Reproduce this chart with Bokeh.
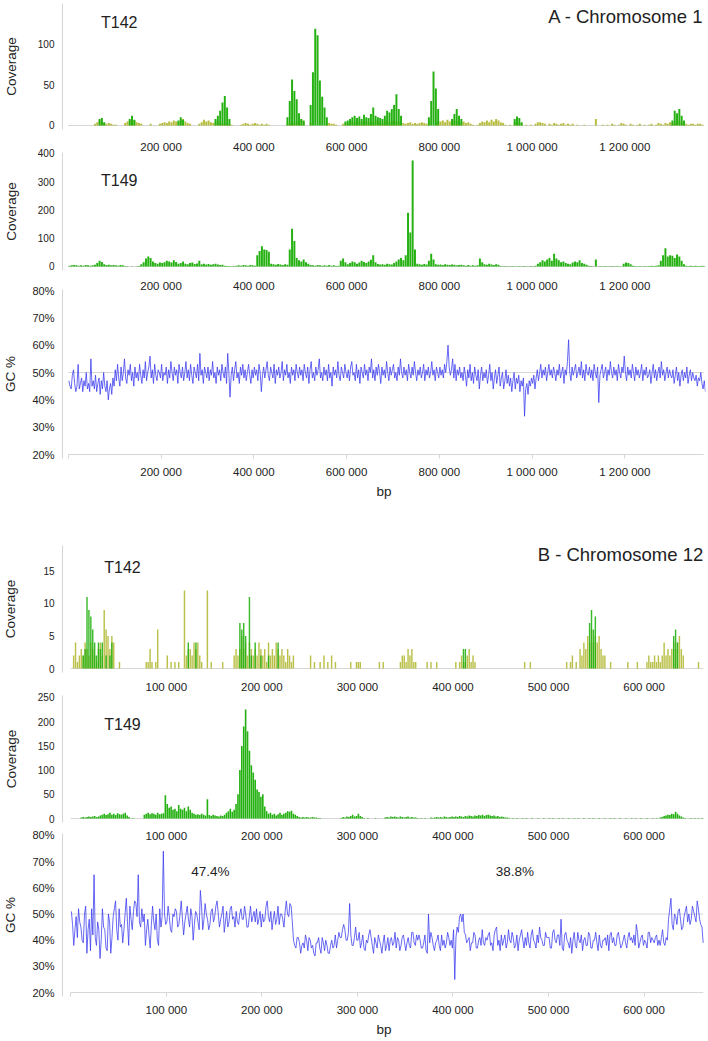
import numpy as np
from bokeh.plotting import figure
from bokeh.layouts import column
from bokeh.models import Range1d, FixedTicker, LinearAxis, Label, PrintfTickFormatter
from bokeh.embed import file_html
from bokeh.resources import INLINE

# ---------------- data ----------------
chr1_len = 1370000
chr12_len = 662000
a_bin = 5000      # bp per coverage bin, chromosome 1
b_bin = 2000      # bp per coverage bin, chromosome 12
gca_bin = 2500    # bp per GC window, chromosome 1
gcb_bin = 1250    # bp per GC window, chromosome 12

a_ticks = [0, 200000, 400000, 600000, 800000, 1000000, 1200000]
a_tick_labels = ["", "200 000", "400 000", "600 000", "800 000", "1 000 000", "1 200 000"]
b_ticks = [0, 100000, 200000, 300000, 400000, 500000, 600000]
b_tick_labels = ["", "100 000", "200 000", "300 000", "400 000", "500 000", "600 000"]
a142_yticks = [0, 50, 100]
a149_yticks = [0, 100, 200, 300, 400]
b142_yticks = [0, 5, 10, 15]
b149_yticks = [0, 50, 100, 150, 200, 250]
gc_yticks = [20, 30, 40, 50, 60, 70, 80]
gc_b_means = ["47.4%", "38.8%"]

# Chromosome 1, T142 coverage (olive = low-quality reads, green = unique reads)
a142_o = [
 0,0,0,0,0,0,0,0,0,0,  0,2,4,6,5,3,2,3,2,1,  1,0,0,0,3,5,6,7,6,4,
 3,2,0,0,0,2,0,0,0,2,  3,4,3,5,4,6,5,4,7,8,  5,3,2,0,0,0,2,4,7,5,
 6,4,3,5,4,3,3,2,2,2,  1,0,0,0,1,2,3,2,1,2,  3,2,1,2,1,2,1,0,0,0,
 0,0,0,0,2,3,4,3,5,3,  7,5,0,0,3,0,0,0,0,0,  0,3,3,2,2,1,0,0,2,3,
 3,4,5,4,3,5,4,6,5,4,  5,4,6,5,4,3,5,6,4,5,  6,5,4,4,3,2,3,4,2,3,
 2,3,4,3,2,3,0,0,4,5,  5,6,4,7,5,8,6,5,6,4,  5,3,4,2,1,0,1,3,5,4,
 6,4,7,5,8,6,4,3,1,0,  1,0,4,3,3,2,0,1,0,1,  0,2,4,4,3,2,0,2,1,3,
 2,1,2,3,1,2,1,2,0,1,  0,0,1,0,0,0,0,8,0,0,  1,0,1,0,2,1,0,1,3,2,
 1,0,2,1,0,1,2,0,1,0,  1,2,0,1,3,2,1,3,2,4,  3,4,3,5,4,3,2,1,2,2,
 1,2,2,1,0]
a142_g = [
 0,0,0,0,0,0,0,0,0,0,  0,0,0,8,9,4,0,0,0,0,  0,0,0,0,0,0,8,12,7,0,
 0,0,0,0,0,0,0,0,0,0,  0,0,0,0,0,0,0,6,10,7,  0,0,0,0,0,0,0,0,0,0,
 0,0,0,8,12,18,28,36,22,8,  0,0,0,0,0,0,0,0,0,0,  0,0,0,0,0,0,0,0,0,0,
 0,0,0,0,10,30,56,42,32,15,  8,6,0,0,25,65,118,110,55,35,  22,10,0,0,0,0,0,0,0,5,
 6,8,10,12,9,11,8,13,10,9,  14,22,12,10,9,8,12,18,16,20,  25,38,20,12,0,0,0,0,0,0,
 0,0,0,0,0,10,30,66,45,20,  0,0,0,0,0,8,14,20,12,8,  0,0,0,0,0,0,0,0,0,0,
 0,0,0,0,0,0,0,0,0,0,  0,0,8,11,9,4,0,0,0,0,  0,0,0,0,0,0,0,0,0,0,
 0,0,0,0,0,0,0,0,0,0,  0,0,0,0,0,0,0,0,0,0,  0,0,0,0,0,0,0,0,0,0,
 0,0,0,0,0,0,0,0,0,0,  0,0,0,0,0,0,0,0,0,0,  6,18,15,20,12,6,0,0,0,0,
 0,0,0,0,0]

# Chromosome 1, T149 coverage
a149_g = [
 3,4,5,4,3,4,3,5,4,3,  4,6,12,20,16,8,5,6,4,5,  4,3,5,4,2,1,0,1,0,1,
 2,8,15,28,35,30,18,12,10,14,  12,15,20,18,14,22,16,10,12,18,  10,8,12,14,9,11,20,8,10,7,
 9,6,8,10,7,5,6,3,2,2,  1,2,3,4,3,5,4,3,5,4,  3,40,55,72,60,58,52,10,8,6,
 9,7,5,8,6,60,134,90,30,22,  18,25,15,10,5,4,3,5,4,3,  4,3,5,3,4,2,3,20,28,15,
 8,12,18,15,10,14,20,16,12,18,  24,40,15,9,7,8,6,10,8,7,  12,18,25,30,22,40,190,120,375,60,
 10,8,6,9,7,20,45,25,8,6,  7,5,8,6,5,7,6,4,5,6,  4,3,5,3,4,3,4,28,15,8,
 6,10,7,5,8,6,2,1,2,1,  1,2,1,1,2,1,2,1,1,2,  1,3,10,15,22,18,25,30,20,45,
 28,22,15,18,12,10,8,14,18,15,  22,12,10,6,3,2,1,25,1,2,  1,2,1,1,2,1,2,1,1,10,
 14,12,8,3,2,1,2,1,2,1,  2,3,2,3,4,20,40,65,35,40,  38,30,42,35,20,8,3,2,3,2,
 3,2,2,3,2]

# Chromosome 1, GC % per window
gc_a = [
 47,45,44,49,51,46,43,45,53,44, 46,48,43,47,45,50,44,46,43,55,
 45,47,44,49,43,46,48,42,47,44, 50,45,43,47,40,44,46,42,48,45,
 51,47,53,48,45,52,47,50,55,48, 46,51,49,53,47,50,45,52,48,50,
 47,53,49,46,51,48,54,47,50,52, 56,48,51,46,53,49,47,51,50,48,
 53,47,50,49,52,46,51,48,54,50, 47,52,49,51,46,53,50,48,52,47,
 50,54,48,51,47,53,49,46,52,50, 48,53,47,57,49,51,46,52,50,48,
 52,47,51,49,54,48,50,46,52,49, 51,47,53,50,48,52,46,57,50,41,
 49,52,47,51,54,48,50,46,52,49, 53,48,51,47,50,53,49,46,51,48,
 52,49,51,47,53,50,43,49,52,48, 51,54,49,47,52,50,48,53,46,51,
 49,52,48,50,54,47,51,49,53,48, 50,46,52,49,51,47,53,50,48,52,
 49,51,47,53,50,48,52,46,51,54, 48,50,47,52,49,51,55,48,50,47,
 52,49,51,47,53,48,50,45,52,49, 51,48,54,49,47,52,50,48,53,50,
 48,51,47,52,54,49,50,47,53,48, 51,46,52,50,48,53,49,51,47,52,
 50,55,48,51,47,52,49,53,50,46, 52,49,51,48,54,50,47,52,49,51,
 53,48,50,47,52,49,55,50,48,52, 49,51,47,53,50,48,52,49,54,50,
 47,51,49,52,48,50,53,47,51,49, 52,48,50,54,49,51,47,52,50,48,
 52,49,51,48,53,50,54,60,52,49, 51,55,48,53,47,51,49,52,48,50,
 47,52,49,45,51,48,53,47,50,46, 52,49,47,51,44,49,52,47,50,48,
 51,46,49,53,47,50,44,48,51,46, 49,52,45,48,50,44,47,51,46,49,
 45,48,43,47,50,44,48,46,49,43, 47,45,48,34,44,46,42,47,45,48,
 46,49,44,48,51,47,50,53,48,51, 49,52,47,50,53,49,51,48,52,50,
 47,51,49,53,48,50,52,46,51,49, 54,62,50,47,52,49,51,53,48,50,
 52,49,54,48,51,47,53,50,49,52, 48,51,47,53,50,48,52,39,49,51,
 53,48,50,52,47,51,49,54,50,48, 52,49,51,47,53,50,48,52,50,56,
 50,47,52,49,51,48,53,50,47,52, 49,51,48,50,53,47,51,49,52,48,
 49,51,46,50,53,48,51,47,50,52, 48,54,49,51,47,50,52,48,51,49,
 48,51,46,49,52,47,50,45,49,51, 47,50,48,52,46,49,51,47,50,48,
 47,49,45,48,47,50,46,44,47,43]

# Chromosome 12, T142 coverage
b142_o = [
 0,2,4,1,2,3,2,4,3,2,  4,3,2,1,3,4,2,9,6,5,  3,5,4,0,0,1,0,0,0,0,
 0,0,0,0,0,0,0,0,0,1,  1,3,1,0,1,6,0,0,0,0,  2,0,1,0,1,0,1,0,0,12,
 2,3,3,2,4,3,4,2,1,0,  0,12,0,1,0,0,0,0,0,1,  0,0,0,0,0,2,3,2,3,5,
 3,4,2,4,3,2,3,2,4,3,  2,3,1,4,2,3,2,4,3,2,  3,2,1,3,2,1,2,0,0,0,
 0,0,0,0,0,2,0,1,0,0,  1,0,2,0,1,0,2,0,1,0,  0,0,0,0,0,0,1,0,0,1,
 1,1,0,0,0,0,0,0,0,0,  0,1,0,1,0,0,0,0,0,0,  0,0,1,2,2,1,3,2,3,1,
 1,0,0,0,0,0,1,0,1,0,  0,1,0,0,0,0,0,0,0,0,  0,1,0,1,2,1,1,2,3,1,
 2,1,0,0,0,0,0,0,0,0,  0,0,0,0,0,0,0,0,0,0,  0,0,0,0,0,0,0,1,0,0,
 1,0,0,0,0,0,0,0,0,0,  0,0,0,0,0,0,0,0,0,1,  0,1,2,0,1,0,3,2,4,3,
 5,4,6,4,5,4,5,3,2,2,  0,0,1,0,0,0,0,0,0,0,  0,1,0,0,0,0,1,0,0,0,
 0,1,2,1,1,2,1,2,1,2,  4,2,3,2,3,4,3,4,5,3,  2,0,0,0,0,0,0,0,1,0,
 0]
b142_g = [
 0,0,0,0,0,0,2,3,11,9,  8,6,4,2,4,3,4,0,2,0,  2,4,0,0,0,0,0,0,0,0,
 0,0,0,0,0,0,0,0,0,0,  0,0,0,0,0,0,0,0,0,0,  0,0,0,0,0,0,0,0,0,0,
 0,4,0,0,0,4,0,0,0,0,  0,0,0,0,0,0,0,0,0,0,  0,0,0,0,0,0,0,0,7,6,
 7,5,0,11,2,0,4,0,0,2,  0,0,0,2,0,0,0,0,4,0,  0,0,0,0,0,0,0,0,0,0,
 0,0,0,0,0,0,0,0,0,0,  0,0,0,0,0,0,0,0,0,0,  0,0,0,0,0,0,0,0,0,0,
 0,0,0,0,0,0,0,0,0,0,  0,0,0,0,0,0,0,0,0,0,  0,0,0,0,0,0,0,0,0,0,
 0,0,0,0,0,0,0,0,0,0,  0,0,0,0,0,0,0,0,0,0,  0,0,0,0,0,3,3,0,0,0,
 0,0,0,0,0,0,0,0,0,0,  0,0,0,0,0,0,0,0,0,0,  0,0,0,0,0,0,0,0,0,0,
 0,0,0,0,0,0,0,0,0,0,  0,0,0,0,0,0,0,0,0,0,  0,0,0,0,0,0,0,0,0,0,
 0,7,9,6,8,0,0,0,0,0,  0,0,0,0,0,0,0,0,0,0,  0,0,0,0,0,0,0,0,0,0,
 0,0,0,0,0,0,0,0,0,0,  0,0,0,0,0,5,6,4,0,0,  0,0,0,0,0,0,0,0,0,0,
 0]

# Chromosome 12, T149 coverage
b149_g = [
 0,0,0,0,0,2,3,2,3,4,  3,4,5,3,4,6,8,10,7,9,  12,8,10,7,11,9,8,10,12,6,
 3,0,1,0,0,0,0,0,8,10,  12,9,11,10,8,12,9,10,11,48,  30,22,25,18,20,15,28,20,18,22,
 15,25,18,12,10,8,9,7,10,8,  6,40,7,5,8,6,5,4,6,5,  8,12,15,20,14,18,30,50,100,150,
 190,225,180,140,110,95,80,60,55,45,  50,25,15,10,12,8,10,6,9,12,  8,10,12,15,14,16,10,8,5,3,
 2,3,2,3,2,2,3,2,2,1,  1,0,0,0,0,0,0,0,0,0,  0,1,3,2,4,3,5,8,4,5,
 10,5,3,1,0,1,0,0,0,1,  0,0,0,0,2,3,2,4,3,4,  3,2,4,3,2,3,4,2,3,2,
 2,1,0,1,0,1,0,0,2,1,  2,3,2,3,2,4,3,2,3,4,  3,4,3,5,4,3,5,4,6,5,
 4,6,5,7,6,8,5,7,8,6,  5,6,4,5,3,4,3,2,2,1,  0,1,0,1,0,0,1,0,1,0,
 0,1,0,0,1,0,0,1,0,0,  1,0,1,0,0,1,0,1,0,0,  1,0,0,1,0,1,0,0,1,0,
 0,1,0,1,0,0,1,0,0,1,  0,0,1,0,1,0,0,1,0,0,  1,0,0,1,0,1,0,0,1,0,
 0,1,0,0,1,0,1,0,2,3,  5,6,8,7,10,9,14,10,6,4,  2,1,0,0,1,0,1,0,1,0,
 1]

# Chromosome 12, GC % per window
gc_b = [
 51,46,38,44,49,41,52,47,45,40, 39,50,53,35,44,48,36,52,42,65,
 41,38,47,44,33,40,52,45,44,37, 36,50,47,35,41,49,52,55,44,40,
 52,45,46,39,44,50,56,47,38,53, 48,44,51,55,54,49,65,47,45,52,
 47,50,38,44,48,42,37,46,53,47, 44,50,40,38,52,45,49,74,50,46,
 47,53,49,44,43,50,49,52,51,45, 46,50,55,48,42,47,50,53,48,45,
 52,49,40,46,51,50,47,44,59,53, 44,48,54,50,48,44,46,51,52,47,
 49,53,55,50,45,48,50,53,43,47, 51,45,47,52,53,48,49,45,51,47,
 46,50,52,48,48,53,50,45,45,49, 53,47,49,51,47,52,46,48,51,45,
 50,47,48,53,55,49,47,51,44,48, 51,46,48,53,46,50,50,48,45,51,
 55,50,49,54,53,47,40,38,37,41, 41,39,35,38,39,37,42,40,36,41,
 40,37,38,35,34,39,39,41,37,35, 41,39,36,40,38,35,35,38,40,37,
 38,42,37,40,43,41,41,44,46,44, 40,40,43,54,42,38,38,41,45,40,
 40,43,37,39,42,37,36,40,39,42, 44,41,38,35,41,39,37,42,40,38,
 35,39,42,36,38,41,36,40,41,38, 39,43,37,41,40,36,38,41,42,39,
 36,39,41,38,37,43,43,39,38,42, 40,42,40,37,37,39,42,36,35,50,
 39,43,41,38,36,39,40,42,38,36, 42,38,40,37,39,43,41,38,40,37,
 44,25,41,45,43,49,50,47,50,43, 42,39,40,41,36,39,39,43,42,37,
 37,40,41,38,44,39,38,41,40,42, 43,38,39,36,42,44,45,38,40,36,
 42,38,40,42,37,39,44,40,39,43, 41,37,38,42,36,40,42,44,40,37,
 41,38,43,39,37,42,44,40,39,37, 42,39,45,41,40,38,38,43,41,41,
 41,37,37,43,44,40,39,42,42,38, 48,37,36,42,43,40,39,37,41,35,
 40,43,38,37,43,40,39,42,36,40, 41,38,38,43,42,37,37,40,40,43,
 39,36,42,38,37,40,40,41,38,42, 36,42,43,39,41,38,38,42,43,40,
 37,38,40,42,39,37,41,43,40,41, 39,42,38,46,43,37,39,41,42,38,
 40,39,37,43,43,39,41,40,39,41, 42,38,40,38,41,44,39,38,41,40,
 48,52,56,46,44,50,49,46,51,52, 48,44,45,49,51,53,47,50,46,48,
 53,51,49,47,55,52,48,46,45,39]

# ---------------- styling ----------------
FONT = "Liberation Sans"
TXT = "#222222"
AXC = "#d6d6d6"
GREEN = "#25b112"
OLIVE = "#a9b01c"
BLUE = "#3a3aef"


def panel(xr, yr, height, top, bottom, yticks, ysize, ylabel, als, pct=False):
    p = figure(width=708, height=height, x_range=xr, y_range=Range1d(*yr),
               output_backend="svg", toolbar_location=None, x_axis_location=None,
               min_border_left=59, min_border_right=3, min_border_top=top,
               min_border_bottom=bottom, outline_line_color=None)
    p.xgrid.visible = False
    p.ygrid.visible = False
    ax = p.yaxis[0]
    ax.ticker = FixedTicker(ticks=yticks)
    ax.axis_line_color = AXC
    ax.major_tick_in = 0
    ax.major_tick_out = 0
    ax.major_tick_line_color = None
    ax.minor_tick_line_color = None
    ax.major_label_text_font = FONT
    ax.major_label_text_font_size = ysize
    ax.major_label_text_color = TXT
    ax.major_label_standoff = 8
    ax.axis_label = ylabel
    ax.axis_label_text_font = FONT
    ax.axis_label_text_font_size = "13.5px"
    ax.axis_label_text_font_style = "normal"
    ax.axis_label_text_color = TXT
    ax.axis_label_standoff = als
    if pct:
        ax.formatter = PrintfTickFormatter(format="%d%%")
    return p


def xlabels(p, ticks, labels, loc, standoff, tick_in=0, axis_label=None, al_standoff=0):
    ax = LinearAxis(ticker=FixedTicker(ticks=ticks),
                    major_label_overrides={t: l for t, l in zip(ticks, labels)})
    ax.axis_line_color = None
    ax.major_tick_out = 0
    ax.major_tick_in = tick_in
    ax.major_tick_line_color = AXC if tick_in else None
    ax.minor_tick_line_color = None
    ax.major_label_text_font = FONT
    ax.major_label_text_font_size = "11.5px"
    ax.major_label_text_color = TXT
    ax.major_label_standoff = standoff
    if axis_label:
        ax.axis_label = axis_label
        ax.axis_label_text_font = FONT
        ax.axis_label_text_font_size = "13.5px"
        ax.axis_label_text_font_style = "normal"
        ax.axis_label_text_color = TXT
        ax.axis_label_standoff = al_standoff
    p.add_layout(ax, loc)


def bars(p, vals, bin_size, color, alpha, frac):
    v = np.array(vals, dtype=float)
    x = (np.arange(len(v)) + 0.5) * bin_size
    m = v > 0
    p.vbar(x=x[m], top=v[m], bottom=0, width=bin_size * frac,
           fill_color=color, fill_alpha=alpha, line_color=None)


def gcline(p, vals, bin_size, length):
    v = np.array(vals, dtype=float)
    x = (np.arange(len(v)) + 0.5) * bin_size
    p.segment(x0=[0], y0=[50], x1=[length], y1=[50], line_color=AXC, line_width=1)
    p.segment(x0=[0], y0=[20], x1=[length], y1=[20], line_color=AXC, line_width=1)
    p.line(x=x, y=v, line_color=BLUE, line_width=0.9, line_alpha=0.85)


def baseline(p, length):
    p.segment(x0=[0], y0=[0], x1=[length], y1=[0], line_color=AXC, line_width=1)


def text(p, x, y, s, size, align="left"):
    p.add_layout(Label(x=x, y=y, text=s, text_font=FONT, text_font_size=size,
                       text_color=TXT, text_align=align, text_baseline="middle"))


xa = Range1d(-12450, 1373900)
xb = Range1d(-8650, 664300)

# ---- Chromosome 1 ----
pa1 = panel(xa, (-4.88, 148.8), 133, 3, 4, a142_yticks, "10px", "Coverage", 16)
baseline(pa1, chr1_len)
bars(pa1, a142_o, a_bin, OLIVE, 0.85, 0.85)
bars(pa1, a142_g, a_bin, GREEN, 1.0, 0.85)
text(pa1, 70600, 125.6, "T142", "16px")
text(pa1, 1369500, 133, "A - Chromosome 1", "18.5px", align="right")

pa2 = panel(xa, (-14.2, 403.5), 141, 19, 4, a149_yticks, "10px", "Coverage", 16)
xlabels(pa2, a_ticks, a_tick_labels, "above", 0)
baseline(pa2, chr1_len)
bars(pa2, a149_g, a_bin, GREEN, 1.0, 0.85)
text(pa2, 70600, 306, "T149", "16px")

pa3 = panel(xa, (18.54, 80.37), 267, 15, 83, gc_yticks, "11px", "GC %", 11, pct=True)
xlabels(pa3, a_ticks, a_tick_labels, "above", -2)
xlabels(pa3, a_ticks, a_tick_labels, "below", 7, tick_in=4, axis_label="bp", al_standoff=3)
gcline(pa3, gc_a, gca_bin, chr1_len)

# ---- Chromosome 12 ----
pb1 = panel(xb, (-0.615, 18.92), 135, 4, 4, b142_yticks, "10px", "Coverage", 22)
baseline(pb1, chr12_len)
bars(pb1, b142_o, b_bin, OLIVE, 0.8, 0.75)
bars(pb1, b142_g, b_bin, GREEN, 0.9, 0.75)
text(pb1, 35100, 15.5, "T142", "16px")
text(pb1, 661900, 17.5, "B - Chromosome 12", "18.5px", align="right")

pb2 = panel(xb, (-8.26, 254.1), 150, 19, 4, b149_yticks, "10px", "Coverage", 16)
xlabels(pb2, b_ticks, b_tick_labels, "above", 3)
baseline(pb2, chr12_len)
bars(pb2, b149_g, b_bin, GREEN, 1.0, 0.85)
text(pb2, 35100, 194, "T149", "16px")

pb3 = panel(xb, (18.5, 80.74), 213, 7, 40, gc_yticks, "11px", "GC %", 11, pct=True)
xlabels(pb3, b_ticks, b_tick_labels, "above", -8)
xlabels(pb3, b_ticks, b_tick_labels, "below", 7, tick_in=4, axis_label="bp", al_standoff=3)
gcline(pb3, gc_b, gcb_bin, chr12_len)
text(pb3, 146000, 66.1, gc_b_means[0], "13.5px", align="center")
text(pb3, 464800, 66.1, gc_b_means[1], "13.5px", align="center")

layout = column(pa1, pa2, pa3, pb1, pb2, pb3, spacing=0)
open("out.html", "w").write(file_html(layout, INLINE))
